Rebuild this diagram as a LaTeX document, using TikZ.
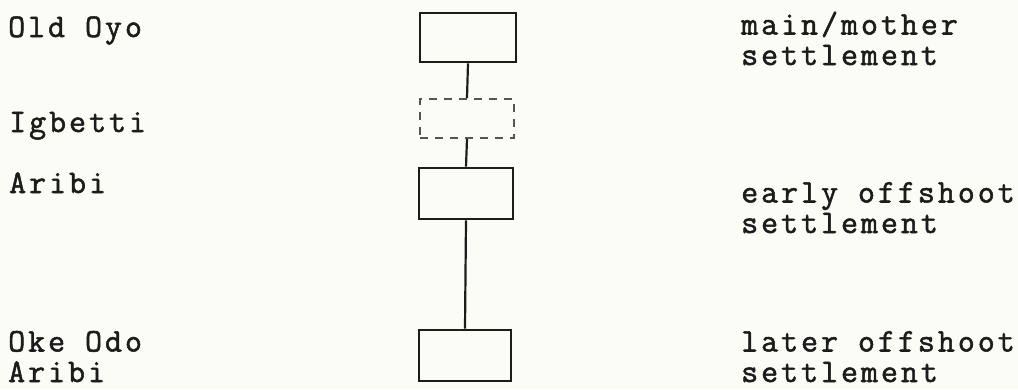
\documentclass[tikz,border=0pt]{standalone}
\usepackage{fontspec}
\newfontfamily\tw{Latin Modern Mono}[LetterSpace=9, FakeBold=1.6]
\begin{document}
\begin{tikzpicture}[x=1pt,y=-1pt,
  lbl/.style={anchor=base west, inner sep=0pt, align=left, text=ink,
    font=\tw\fontsize{33}{30.5}\selectfont},
  sbox/.style={draw=ink, line width=2.8pt, inner sep=0pt},
  dbox/.style={draw=ink!75, line width=2pt, dash pattern=on 8pt off 7pt, inner sep=0pt},
  link/.style={draw=ink, line width=2.2pt}]
\definecolor{ink}{RGB}{28,28,28}
\definecolor{paper}{RGB}{252,252,246}
\fill[paper] (0,0) rectangle (1018,389);
\useasboundingbox (0,0) rectangle (1018,389);
% left labels
\node[lbl] (l1) at (8,37) {Old Oyo};
\node[lbl] (l2) at (9,132) {Igbetti};
\node[lbl] (l3) at (9,193) {Aribi};
\node[lbl] (l4) at (8,382) {Oke Odo\\Aribi};
% boxes
\node[sbox, minimum width=96pt, minimum height=49pt] (b1) at (468,37.5) {};
\node[dbox, minimum width=94pt, minimum height=39pt] (b2) at (467,118.5) {};
\node[sbox, minimum width=94pt, minimum height=51pt] (b3) at (466,193.5) {};
\node[sbox, minimum width=92pt, minimum height=51pt] (b4) at (465,355.5) {};
% connectors
\draw[link] (b1.south) -- (b2.north);
\draw[link] (b2.south) -- (b3.north);
\draw[link] (b3.south) -- (b4.north);
% right labels
\node[lbl] (r1) at (741,65) {main/mother\\settlement};
\node[lbl] (r2) at (741,233) {early offshoot\\settlement};
\node[lbl] (r3) at (741,382) {later offshoot\\settlement};
\end{tikzpicture}
\end{document}
